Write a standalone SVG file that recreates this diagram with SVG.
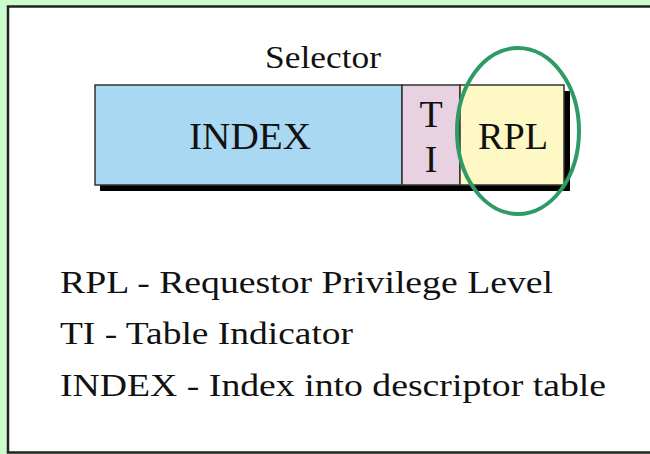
<svg xmlns="http://www.w3.org/2000/svg" width="650" height="454" viewBox="0 0 650 454">
  <style>
    .serif { font-family: "Liberation Serif", "Times New Roman", serif; fill: #111; }
    .field { stroke: #333; stroke-width: 1.5; }
    .legend { font-size: 31px; }
    .cell { font-size: 38px; text-anchor: middle; }
  </style>
  <!-- page background and frame -->
  <rect x="0" y="0" width="650" height="454" fill="#ccfccc"/>
  <rect x="8" y="6.5" width="700" height="446" fill="#ffffff" stroke="#222" stroke-width="2.5"/>

  <text class="serif" x="323" y="68" font-size="31" text-anchor="middle" textLength="116" lengthAdjust="spacingAndGlyphs">Selector</text>

  <!-- drop shadow behind the selector fields -->
  <rect x="100" y="91" width="470" height="100" fill="#000"/>

  <g id="index">
    <rect class="field" x="95" y="85" width="307" height="100" fill="#a8d8f2"/>
    <text class="serif cell" x="250" y="149" textLength="122" lengthAdjust="spacingAndGlyphs">INDEX</text>
  </g>
  <g id="ti">
    <rect class="field" x="402" y="85" width="58" height="100" fill="#e8d2e2"/>
    <text class="serif cell" x="431" y="127">T</text>
    <text class="serif cell" x="431" y="172">I</text>
  </g>
  <g id="rpl">
    <rect class="field" x="460" y="85" width="104" height="100" fill="#fef8c4"/>
    <text class="serif cell" x="513" y="149" textLength="70" lengthAdjust="spacingAndGlyphs">RPL</text>
  </g>

  <!-- highlight around the RPL field -->
  <g id="rpl-highlight">
    <ellipse cx="518" cy="131" rx="61" ry="83" fill="none" stroke="#2e9a66" stroke-width="4"/>
  </g>

  <g id="legend">
    <text class="serif legend" x="60" y="293" textLength="493" lengthAdjust="spacingAndGlyphs">RPL - Requestor Privilege Level</text>
    <text class="serif legend" x="60" y="344" textLength="293" lengthAdjust="spacingAndGlyphs">TI - Table Indicator</text>
    <text class="serif legend" x="60" y="396" textLength="546" lengthAdjust="spacingAndGlyphs">INDEX - Index into descriptor table</text>
  </g>
</svg>
